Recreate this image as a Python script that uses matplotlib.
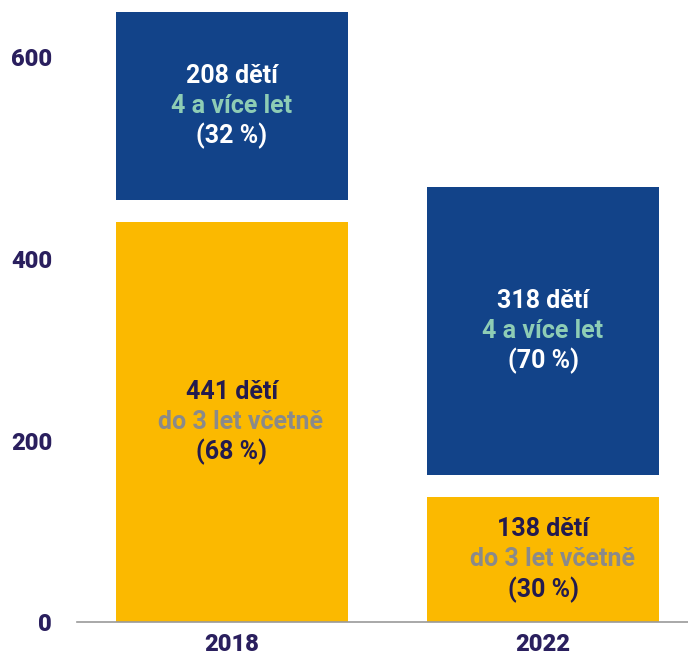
import matplotlib.pyplot as plt
import matplotlib.transforms as mtransforms
import numpy as np

plt.rcParams['font.family'] = ['Roboto', 'DejaVu Sans']

years = ['2018', '2022']
young = [441, 138]          # do 3 let včetně
older = [208, 318]          # 4 a více let
young_pct = [68, 30]
older_pct = [32, 70]
gap = 24                    # white space between the two segments

yellow = '#FBB900'
blue = '#124389'
navy = '#231B4F'
teal = '#8ECDB5'
grey = '#8A8A8A'

fig = plt.figure(figsize=(6.88, 6.54), dpi=100)
ax = fig.add_axes([0.112, 0.049, 0.888, 0.943])

x = np.arange(len(years))
width = 0.746
bottoms = np.array(young) + gap
ax.bar(x, young, width, color=yellow, edgecolor='none')
ax.bar(x, older, width, bottom=bottoms, color=blue, edgecolor='none')


def label(xc, yc, lines):
    offsets = [21.6, 0, -21.6]
    for (txt, col, dx), dy in zip(lines, offsets):
        ax.annotate(txt, (xc, yc), xytext=(dx, dy), textcoords='offset points',
                    ha='center', va='center', fontsize=18, fontweight='bold',
                    color=col)


for i in range(len(years)):
    label(x[i], young[i] / 2,
          [(f'{young[i]} dětí', navy, 0),
           ('do 3 let včetně', grey, 6.5),
           (f'({young_pct[i]} %)', navy, 0)])
    label(x[i], bottoms[i] + older[i] / 2,
          [(f'{older[i]} dětí', 'white', 0),
           ('4 a více let', teal, 0),
           (f'({older_pct[i]} %)', 'white', 0)])

ax.set_xlim(-0.498, 1.466)
ax.set_ylim(0, 680)
ax.set_xticks(x)
ax.set_xticklabels(years)
ax.set_yticks([0, 200, 400, 600])

for s in ['top', 'right', 'left']:
    ax.spines[s].set_visible(False)
ax.spines['bottom'].set_color('#9A9A9A')
ax.spines['bottom'].set_linewidth(1.2)
ax.tick_params(axis='both', length=0, labelsize=17, labelcolor='#2A1F5E')
ax.tick_params(axis='y', pad=18)
ax.tick_params(axis='x', pad=8)
for t in ax.get_xticklabels() + ax.get_yticklabels():
    t.set_fontweight(900)

# the top label sits a bit higher in the original
top = ax.yaxis.get_major_ticks()[-1].label1
top.set_transform(top.get_transform() +
                  mtransforms.ScaledTranslation(0, 0.21, fig.dpi_scale_trans))

fig.savefig('out.png', dpi=100)
